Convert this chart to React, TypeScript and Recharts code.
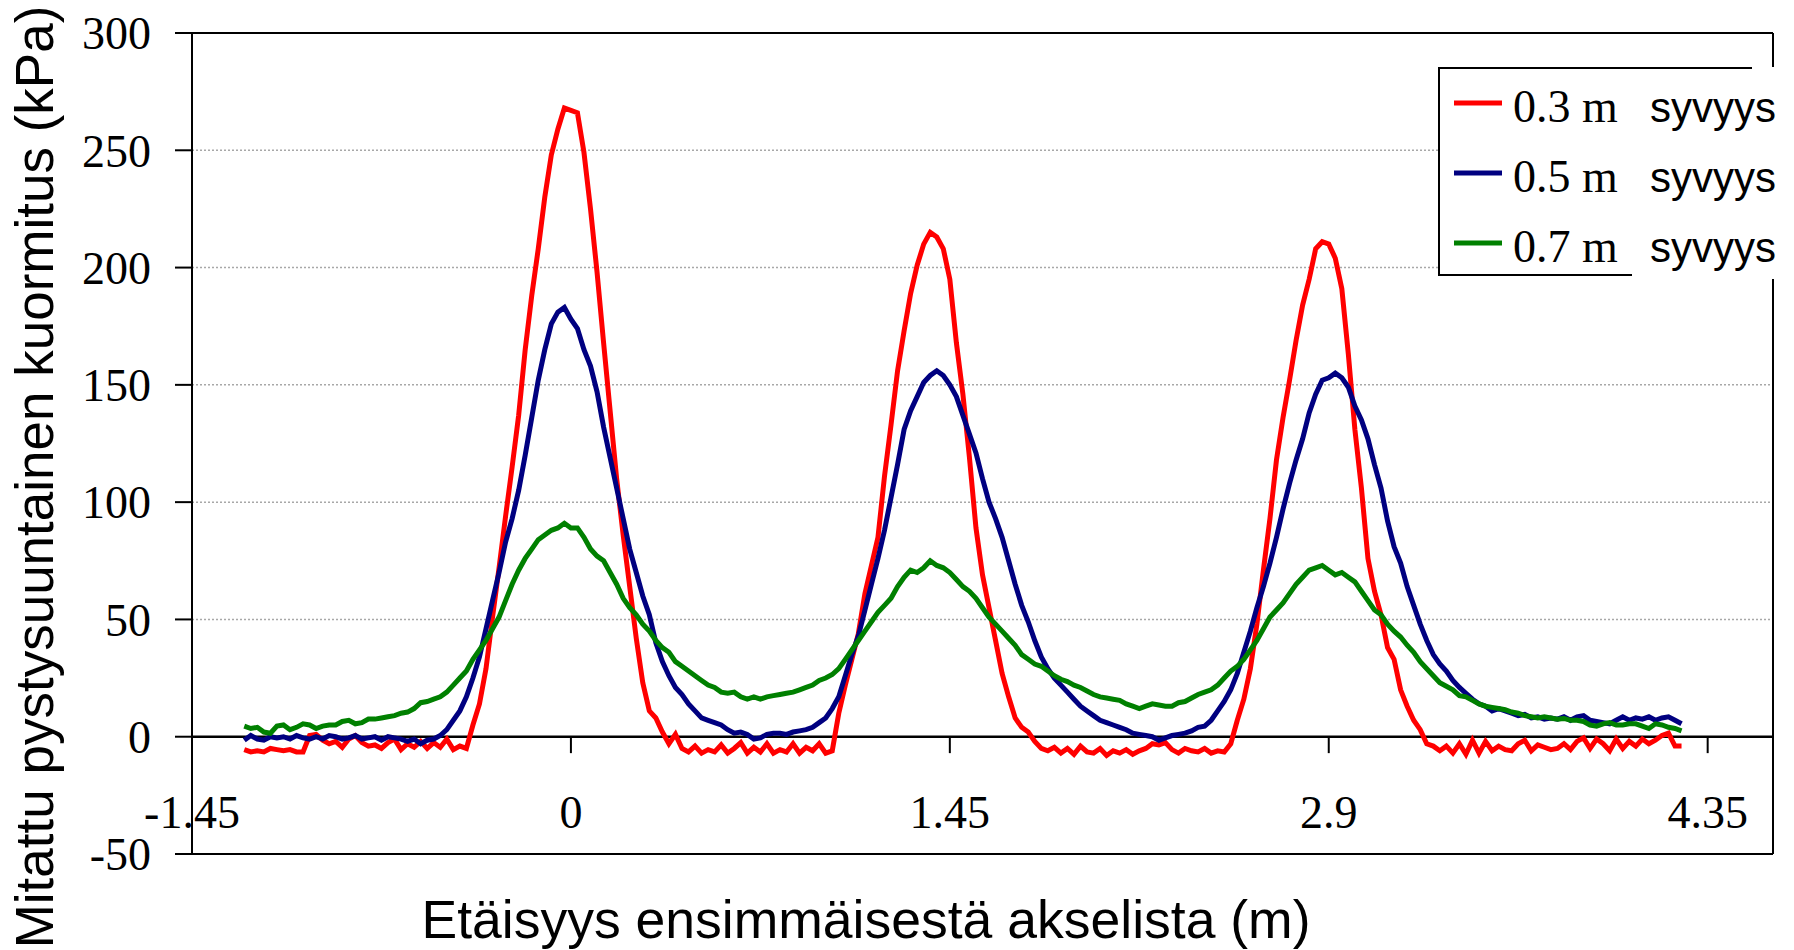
import { LineChart, Line, XAxis, YAxis, CartesianGrid, ReferenceLine, Legend } from 'recharts';

// measuring points along the track (m), one every 25 mm
const distance = [
  -1.25, -1.225, -1.2, -1.175, -1.15, -1.125, -1.1, -1.075, -1.05, -1.025,
  -1, -0.975, -0.95, -0.925, -0.9, -0.875, -0.85, -0.825, -0.8, -0.775,
  -0.75, -0.725, -0.7, -0.675, -0.65, -0.625, -0.6, -0.575, -0.55, -0.525,
  -0.5, -0.475, -0.45, -0.425, -0.4, -0.375, -0.35, -0.325, -0.3, -0.275,
  -0.25, -0.225, -0.2, -0.175, -0.15, -0.125, -0.1, -0.075, -0.05, -0.025,
  0, 0.025, 0.05, 0.075, 0.1, 0.125, 0.15, 0.175, 0.2, 0.225,
  0.25, 0.275, 0.3, 0.325, 0.35, 0.375, 0.4, 0.425, 0.45, 0.475,
  0.5, 0.525, 0.55, 0.575, 0.6, 0.625, 0.65, 0.675, 0.7, 0.725,
  0.75, 0.775, 0.8, 0.825, 0.85, 0.875, 0.9, 0.925, 0.95, 0.975,
  1, 1.025, 1.05, 1.075, 1.1, 1.125, 1.15, 1.175, 1.2, 1.225,
  1.25, 1.275, 1.3, 1.325, 1.35, 1.375, 1.4, 1.425, 1.45, 1.475,
  1.5, 1.525, 1.55, 1.575, 1.6, 1.625, 1.65, 1.675, 1.7, 1.725,
  1.75, 1.775, 1.8, 1.825, 1.85, 1.875, 1.9, 1.925, 1.95, 1.975,
  2, 2.025, 2.05, 2.075, 2.1, 2.125, 2.15, 2.175, 2.2, 2.225,
  2.25, 2.275, 2.3, 2.325, 2.35, 2.375, 2.4, 2.425, 2.45, 2.475,
  2.5, 2.525, 2.55, 2.575, 2.6, 2.625, 2.65, 2.675, 2.7, 2.725,
  2.75, 2.775, 2.8, 2.825, 2.85, 2.875, 2.9, 2.925, 2.95, 2.975,
  3, 3.025, 3.05, 3.075, 3.1, 3.125, 3.15, 3.175, 3.2, 3.225,
  3.25, 3.275, 3.3, 3.325, 3.35, 3.375, 3.4, 3.425, 3.45, 3.475,
  3.5, 3.525, 3.55, 3.575, 3.6, 3.625, 3.65, 3.675, 3.7, 3.725,
  3.75, 3.775, 3.8, 3.825, 3.85, 3.875, 3.9, 3.925, 3.95, 3.975,
  4, 4.025, 4.05, 4.075, 4.1, 4.125, 4.15, 4.175, 4.2, 4.225,
  4.25,
];

// 0.3 m depth (kPa)
const depth03 = [
  -5.5, -6.5, -6, -6.5, -5, -5.5, -6, -5.5, -6.5, -6.5,
  0.5, 1, -1.5, -3, -2, -4.5, -1, 0.5, -2.5, -4,
  -3.5, -5, -2.5, -1, -5.5, -3, -4.5, -2, -5, -2.5,
  -4.5, -1, -5.5, -4, -5, 5, 14, 29, 51, 72,
  94, 115, 137, 165, 188, 208, 230, 248, 259, 268,
  267, 266, 249, 225, 198, 168, 139, 110, 86, 64,
  42, 23, 11, 8, 2, -3, 1, -5, -6.5, -4,
  -7, -5.5, -6.5, -3.5, -7, -5, -2.5, -7, -4.5, -6.5,
  -3, -7, -5.5, -6.5, -3, -7, -4.5, -6, -3, -7,
  -6, 10, 22, 33, 44, 61, 73, 85, 111, 133,
  156, 173, 189, 201, 210, 215, 213, 208, 195, 168,
  146, 119, 89, 69, 55, 41, 27, 17, 8, 4,
  2, -2, -5, -6, -4.5, -7, -5, -7.5, -4, -6.5,
  -7, -5, -8, -6, -7, -5.5, -7.5, -6, -5, -3,
  -3.5, -2.5, -5.5, -7, -5, -6, -6.5, -5, -7, -6,
  -6.5, -3, 7, 16, 29, 48, 71, 93, 118, 136,
  152, 169, 184, 195, 208, 211, 210, 204, 191, 163,
  131, 106, 76, 62, 52, 38, 33, 20, 13, 7,
  3, -3, -4, -6, -4, -7, -3, -7.5, -1.5, -7,
  -2, -6, -4, -5.5, -6, -3, -1.5, -6, -3.5, -4.5,
  -5.5, -5, -3, -5.5, -2, -0.5, -5, -1, -3, -6,
  -1, -5, -2, -4, -1, -3, -1.5, 0.5, 1.5, -4,
  -4,
];

// 0.5 m depth (kPa)
const depth05 = [
  -1.5, 0.5, -1, -1.5, 0, -0.5, 0, -1, 0.5, -0.5,
  -1, 0, -1, 0.5, 0, -1, -0.5, 0.5, -1, -0.5,
  0, -1.5, 0, -0.5, -1, -2, -1, -3, -1.5, -1,
  0.5, 3, 7, 11, 17, 25, 34, 46, 58, 70,
  83, 93, 105, 120, 136, 152, 165, 176, 181, 183,
  178, 174, 165, 158, 147, 132, 119, 106, 93, 80,
  70, 60, 52, 40, 32, 26, 21, 18, 14, 11,
  8, 7, 6, 5, 3, 1.5, 2, 1, -1, -0.5,
  1, 1.5, 1.5, 1, 2, 2.5, 3, 4, 6, 8,
  12, 17, 26, 35, 43, 54, 65, 76, 88, 102,
  116, 131, 139, 145, 151, 154, 156, 154, 150, 145,
  137, 129, 121, 110, 100, 93, 85, 75, 65, 56,
  49, 41, 34, 29, 25, 22, 19, 16, 13, 11,
  9, 7, 6, 5, 4, 3, 1.5, 1, 0.5, 0,
  -1.5, -0.5, 0.5, 1, 1.5, 2.5, 4, 4.5, 7, 11,
  15, 20, 27, 36, 45, 55, 64, 74, 85, 97,
  108, 118, 127, 138, 146, 152, 153, 155, 153, 149,
  141, 135, 127, 116, 106, 92, 81, 74, 64, 56,
  48, 41, 35, 31, 28, 24, 21, 18.5, 16, 14,
  13, 11, 12, 11, 10, 9, 9.5, 8, 8.5, 7.5,
  8, 7.5, 8.5, 7, 8.5, 9, 7, 6.5, 6, 5.5,
  7, 8.5, 7, 8, 7.5, 8.5, 7, 8, 8.5, 7,
  5.5,
];

// 0.7 m depth (kPa)
const depth07 = [
  4.5, 3.5, 4, 2, 1.5, 4.5, 5, 3, 4, 5.5,
  5, 3.5, 4.5, 5, 5, 6.5, 7, 5.5, 6, 7.5,
  7.5, 8, 8.5, 9, 10, 10.5, 12, 14.5, 15, 16,
  17, 19, 22, 25, 28, 33, 37, 41, 46, 51,
  58, 65, 71, 76, 80, 84, 86, 88, 89, 91,
  89, 89, 85, 80, 77, 75, 70, 65, 59, 55,
  52, 48, 45, 41, 38, 36, 32, 30, 28, 26,
  24, 22, 21, 19, 18.5, 19, 17, 16, 17, 16,
  17, 17.5, 18, 18.5, 19, 20, 21, 22, 24, 25,
  26.5, 29, 33, 37, 41, 45, 49, 53, 56, 59,
  64, 68, 71, 70, 72, 75, 73, 72, 70, 67,
  64, 62, 59, 55, 51, 48, 45, 42, 39, 35,
  33, 31, 30, 28, 26, 24.5, 23.5, 22, 21, 19.5,
  18, 17, 16.5, 16, 15.5, 14, 13, 12, 13, 14,
  13.5, 13, 13, 14.5, 15, 16.5, 18, 19, 20, 22,
  25, 28, 30, 33, 37, 41, 46, 51, 54, 57,
  61, 65, 68, 71, 72, 73, 71, 69, 70, 68,
  66, 62, 58, 54, 52, 48, 45, 42.5, 39, 36,
  32, 29, 26, 23, 21.5, 20, 17.5, 17, 15.5, 14,
  13, 12.5, 12, 11.5, 10.5, 10, 9, 8.5, 8, 8.5,
  8, 7.5, 7.8, 7, 7, 6.5, 5, 4.5, 5.5, 6,
  5, 5, 5.5, 5.5, 4.5, 3.5, 5.5, 5, 4, 3.5,
  2.5,
];

const depthNames = ['0.3 m', '0.5 m', '0.7 m'];
const xTicks = [-1.45, 0, 1.45, 2.9, 4.35];
const yTicks = [-50, 0, 50, 100, 150, 200, 250, 300];

const data = distance.map((x, i) => ({ x, d03: depth03[i], d05: depth05[i], d07: depth07[i] }));

const SERIF = '"Liberation Serif", "Times New Roman", serif';
const SANS = '"Liberation Sans", Arial, sans-serif';

function XTick(props: any) {
  const { x, y, payload } = props;
  return (
    <text x={x} y={y - 26} textAnchor="middle" fontFamily={SERIF} fontSize={46} fill="#000">
      {payload.value}
    </text>
  );
}

// titles are drawn by hand so they sit where Excel put them
const xTitle = () => (
  <text x={866} y={938} textAnchor="middle" fontFamily={SANS} fontSize={53.5} fill="#000">
    Etäisyys ensimmäisestä akselista (m)
  </text>
);

const yTitle = () => (
  <text
    x={53}
    y={477}
    transform="rotate(-90, 53, 477)"
    textAnchor="middle"
    fontFamily={SANS}
    fontSize={53}
    fill="#000"
  >
    Mitattu pystysuuntainen kuormitus (kPa)
  </text>
);

function DepthLegend({ payload }: any) {
  return (
    <svg width={350} height={212} style={{ display: 'block' }}>
      <rect x={0} y={0} width={350} height={212} fill="#fff" />
      <line x1={0} y1={1} x2={314} y2={1} stroke="#000" strokeWidth={2} />
      <line x1={1} y1={0} x2={1} y2={209} stroke="#000" strokeWidth={2} />
      <line x1={0} y1={208} x2={194} y2={208} stroke="#000" strokeWidth={2} />
      {(payload || []).map((entry: any, i: number) => (
        <g key={entry.value}>
          <line x1={16} y1={36 + i * 70} x2={64} y2={36 + i * 70} stroke={entry.color} strokeWidth={5} />
          <text x={75} y={55 + i * 70} fontFamily={SERIF} fontSize={46} fill="#000">{entry.value}</text>
          <text x={212} y={55 + i * 70} fontFamily={SANS} fontSize={42} fill="#000">syvyys</text>
        </g>
      ))}
    </svg>
  );
}

export default function App() {
  return (
    <div style={{ position: 'absolute', left: 0, top: 0, width: 1794, height: 950, background: '#fff' }}>
      <LineChart width={1794} height={950} data={data} margin={{ top: 33, right: 21, bottom: 66, left: 132 }}>
        <CartesianGrid vertical={false} stroke="#a8a8a8" strokeDasharray="2 2" strokeWidth={1.5} />
        <XAxis
          dataKey="x"
          type="number"
          domain={[-1.45, 4.6]}
          ticks={xTicks}
          interval={0}
          height={30}
          tickLine={false}
          tickSize={0}
          tickMargin={0}
          axisLine={{ stroke: '#000', strokeWidth: 2 }}
          tick={<XTick />}
          label={xTitle}
        />
        <YAxis
          type="number"
          domain={[-50, 300]}
          ticks={yTicks}
          interval={0}
          width={60}
          tickSize={17}
          tickMargin={24}
          axisLine={{ stroke: '#000', strokeWidth: 2 }}
          tickLine={{ stroke: '#000', strokeWidth: 2 }}
          tick={{ fontFamily: SERIF, fontSize: 46, fill: '#000' }}
          label={yTitle}
        />
        <ReferenceLine y={300} stroke="#000" strokeWidth={2} />
        <ReferenceLine x={4.6} stroke="#000" strokeWidth={2} />
        <ReferenceLine y={0} stroke="#000" strokeWidth={2.5} />
        {xTicks.slice(1).map((t) => (
          <ReferenceLine key={t} segment={[{ x: t, y: 0 }, { x: t, y: -7 }]} stroke="#000" strokeWidth={2} />
        ))}
        <Line type="linear" dataKey="d03" name={depthNames[0]} stroke="#ff0000" strokeWidth={5} dot={false} isAnimationActive={false} />
        <Line type="linear" dataKey="d05" name={depthNames[1]} stroke="#000080" strokeWidth={5} dot={false} isAnimationActive={false} />
        <Line type="linear" dataKey="d07" name={depthNames[2]} stroke="#008000" strokeWidth={5} dot={false} isAnimationActive={false} />
        <Legend
          layout="vertical"
          align="center"
          verticalAlign="middle"
          content={<DepthLegend />}
          wrapperStyle={{ left: 1438, top: 67, width: 350, height: 212 }}
        />
      </LineChart>
    </div>
  );
}
